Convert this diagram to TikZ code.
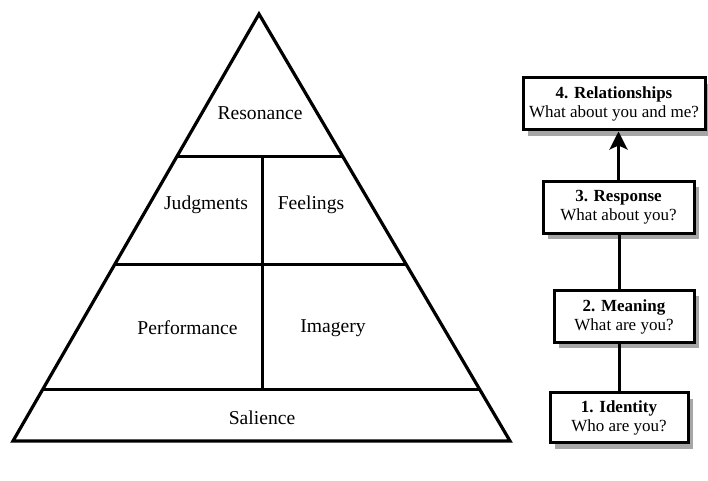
\documentclass[tikz,border=0pt]{standalone}
\usepackage{fontspec}
\setmainfont{Liberation Serif}
\usetikzlibrary{shadows,arrows.meta}
\tikzset{
	level/.style={font=\fontsize{9.8}{11}\selectfont},
	stage/.style={draw, line width=1.5pt, fill=white, align=center, minimum height=26pt, inner sep=1pt,
		font=\fontsize{8.5}{9.5}\selectfont,
		drop shadow={shadow xshift=2.5pt, shadow yshift=-3pt, fill=gray!70, opacity=1}},
}
\begin{document}
\begin{tikzpicture}[x=0.5pt,y=0.5pt]
	\useasboundingbox (0,0) rectangle (708,481);
	\draw[line width=1.6pt] (259,467) -- (510,40) -- (13,40) -- cycle;
	\draw[line width=1.5pt] (176.6,324) -- (343,324);
	\draw[line width=1.5pt] (114.4,216) -- (406.5,216);
	\draw[line width=1.5pt] (42.4,91) -- (480,91);
	\draw[line width=1.5pt] (262,324) -- (262,91);
	\node[level] (res) at (260,368) {Resonance};
	\node[level] (jud) at (206,276) {Judgments};
	\node[level] (fee) at (311,276) {Feelings};
	\node[level] (per) at (187.5,153) {Performance};
	\node[level] (ima) at (333,153) {Imagery};
	\node[level] (sal) at (262,63) {Salience};
	\node[stage, minimum width=91pt] (b4) at (614,377) {\textbf{4. Relationships}\\What about you and me?};
	\node[stage, minimum width=75.5pt] (b3) at (618.5,273.5) {\textbf{3. Response}\\What about you?};
	\node[stage, minimum width=70pt] (b2) at (624,164.5) {\textbf{2. Meaning}\\What are you?};
	\node[stage, minimum width=69pt, minimum height=25pt] (b1) at (619,63) {\textbf{1. Identity}\\Who are you?};
	\draw[line width=1.5pt] (b1.north) -- (b1.north |- b2.south);
	\draw[line width=1.5pt] (b1.north |- b2.north) -- (b1.north |- b3.south);
	\draw[line width=1.5pt, -{Stealth[length=9pt,width=9pt,inset=2pt]}] (b3.north) -- (b3.north |- b4.south);
\end{tikzpicture}
\end{document}
